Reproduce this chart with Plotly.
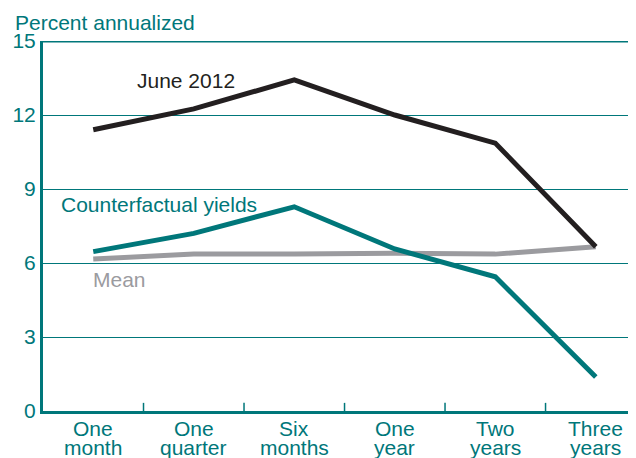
import plotly.graph_objects as go

cat_line1 = ["One", "One", "Six", "One", "Two", "Three"]
cat_line2 = ["month", "quarter", "months", "year", "years", "years"]
june_2012 = [11.4, 12.25, 13.42, 12.0, 10.86, 6.66]
counterfactual = [6.46, 7.2, 8.28, 6.57, 5.44, 1.38]
mean_vals = [6.16, 6.36, 6.36, 6.4, 6.36, 6.66]
y_ticks = [0, 3, 6, 9, 12, 15]

TEAL = "#00777a"
GRAY = "#9b9b9f"
BLACK = "#231f20"
FONT = "Liberation Sans"
FS = 21

fig = go.Figure()
xs = list(range(len(cat_line1)))
fig.add_trace(go.Scatter(x=xs, y=mean_vals, mode="lines",
                         line=dict(color=GRAY, width=5), showlegend=False))
fig.add_trace(go.Scatter(x=xs, y=counterfactual, mode="lines",
                         line=dict(color=TEAL, width=5), showlegend=False))
fig.add_trace(go.Scatter(x=xs, y=june_2012, mode="lines",
                         line=dict(color=BLACK, width=5), showlegend=False))

# page body has an 8px margin, so the figure is sized/offset to compensate
fig.update_layout(
    width=628, height=450,
    margin=dict(l=35, r=0, t=33, b=47),
    plot_bgcolor="white", paper_bgcolor="white",
    font=dict(family=FONT, size=FS, color=TEAL),
    xaxis=dict(
        tickmode="array", tickvals=xs, showticklabels=False, automargin=False,
        range=[-0.5, 5.4], showgrid=False, zeroline=False,
        showline=True, linecolor=TEAL, linewidth=3, ticks="",
    ),
    yaxis=dict(
        range=[0, 15], tickvals=y_ticks, showgrid=True, gridcolor=TEAL, gridwidth=1,
        zeroline=False, showline=True, linecolor=TEAL, linewidth=3, automargin=False,
        ticks="", ticklabelstandoff=0, tickfont=dict(size=FS, color=TEAL),
    ),
)

# two-line category labels
for x, t1, t2 in zip(xs, cat_line1, cat_line2):
    fig.add_annotation(text=t1, x=x, y=0, xref="x", yref="paper", yanchor="middle",
                       yshift=-17, showarrow=False, font=dict(family=FONT, size=FS, color=TEAL))
    fig.add_annotation(text=t2, x=x, y=0, xref="x", yref="paper", yanchor="middle",
                       yshift=-36, showarrow=False, font=dict(family=FONT, size=FS, color=TEAL))

# tick marks at category boundaries (inside, pointing up)
for b in [i + 0.5 for i in xs[:-1]]:
    fig.add_shape(type="line", xref="x", yref="paper", x0=b, x1=b, y0=0, y1=0.022,
                  line=dict(color=TEAL, width=1.5))

# thick top frame line at the top tick
fig.add_shape(type="line", xref="paper", yref="y", x0=0, x1=1, y0=max(y_ticks), y1=max(y_ticks),
              line=dict(color=TEAL, width=3))

fig.add_annotation(text="June 2012", x=0.92, y=13.4, xref="x", yref="y", showarrow=False,
                   font=dict(family=FONT, size=FS, color=BLACK))
fig.add_annotation(text="Counterfactual yields", x=0.65, y=8.39, xref="x", yref="y", showarrow=False,
                   font=dict(family=FONT, size=FS, color=TEAL))
fig.add_annotation(text="Mean", x=0.26, y=5.35, xref="x", yref="y", showarrow=False,
                   font=dict(family=FONT, size=FS, color=GRAY))
fig.add_annotation(text="Percent annualized", x=-30/593, y=1 + (41-22)/370,
                   xref="paper", yref="paper", xanchor="left", yanchor="middle",
                   showarrow=False, font=dict(family=FONT, size=FS, color=TEAL))

fig.write_html("out.html")
